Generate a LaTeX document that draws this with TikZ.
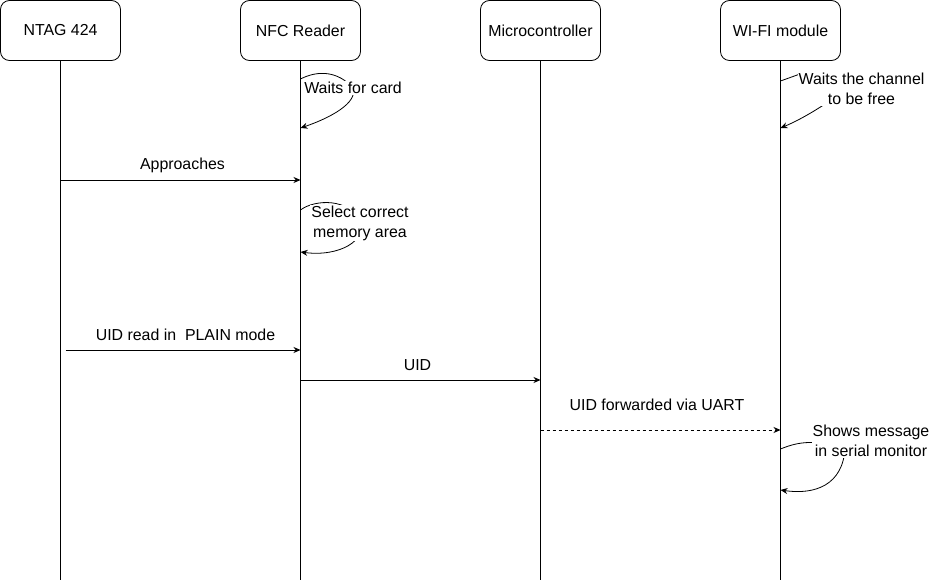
\documentclass[tikz,border=0pt]{standalone}
\usepackage{fontspec}
\setmainfont{Liberation Sans}
\usetikzlibrary{arrows.meta}
\begin{document}
\begin{tikzpicture}[x=1pt,y=-1pt,
  actor/.style={draw, rounded corners=9pt, minimum width=120pt, minimum height=60pt, line width=0.8pt},
  life/.style={line width=0.8pt},
  msg/.style={line width=0.8pt, -{Stealth[length=7pt,width=6pt]}},
  lbl/.style={font=\fontsize{15.9}{20}\selectfont, inner sep=1pt},
  note/.style={font=\fontsize{15.9}{20}\selectfont, inner sep=1pt, fill=white, align=center}]
\useasboundingbox (0,0) rectangle (930,583);
\fill[white] (0,0) rectangle (930,583);
% actors
\node[actor, lbl] (A) at (60.5,30.5) {NTAG 424};
\node[actor, lbl] (B) at (300.5,30.5) {NFC Reader};
\node[actor, lbl] (C) at (540.5,30.5) {Microcontroller};
\node[actor, lbl] (D) at (780.5,30.5) {WI-FI module};
\coordinate (Ae) at (60.5,580);
\coordinate (Be) at (300.5,580);
\coordinate (Ce) at (540.5,580);
\coordinate (De) at (780.5,580);
\draw[life] (A.south) -- (Ae);
\draw[life] (B.south) -- (Be);
\draw[life] (C.south) -- (Ce);
\draw[life] (D.south) -- (De);
% self loop: waits for card
\coordinate (b1s) at (300.5,79);
\coordinate (b1e) at (300.5,128);
\draw[msg] (b1s) .. controls (318,70) and (338,71) .. (353,88) .. controls (358,103) and (330,118) .. (b1e);
\node[note] (n1) at (353,88) {Waits for card};
% approaches
\coordinate (m1s) at (60.5,180);
\coordinate (m1e) at (300.5,180);
\draw[msg] (m1s) -- (m1e);
\node[lbl] (l1) at (182.5,165) {Approaches};
% self loop: select correct memory area
\coordinate (b2s) at (300.5,210);
\coordinate (b2e) at (300.5,252);
\draw[msg] (b2s) .. controls (315,199) and (350,198) .. (360,222) .. controls (367,240) and (340,257) .. (b2e);
\node[note] (n2) at (360,223) {Select correct\\memory area};
% UID read in PLAIN mode
\coordinate (m2s) at (65.5,350);
\coordinate (m2e) at (300.5,350);
\draw[msg] (m2s) -- (m2e);
\node[lbl] (l2) at (185.5,335) {UID read in \ PLAIN mode};
% UID
\coordinate (m3s) at (300.5,380);
\coordinate (m3e) at (540.5,380);
\draw[msg] (m3s) -- (m3e);
\node[lbl] (l3) at (417.5,365) {UID};
% UID forwarded via UART
\coordinate (m4s) at (540.5,430);
\coordinate (m4e) at (780.5,430);
\draw[msg, dash pattern=on 3pt off 3pt] (m4s) -- (m4e);
\node[lbl] (l4) at (657,405) {UID forwarded via UART};
% self loop: waits the channel
\coordinate (d1s) at (780.5,81);
\coordinate (d1e) at (780.5,128);
\draw[msg] (d1s) .. controls (790,77) .. (800,74) -- (850,90) -- (822,106) .. controls (808,115) and (795,122) .. (d1e);
\node[note] (n3) at (861.5,89) {Waits the channel\\to be free};
% self loop: shows message
\coordinate (d2s) at (780.5,449);
\coordinate (d2e) at (780.5,490);
\draw[msg] (d2s) .. controls (800,441) and (815,440) .. (845,448) .. controls (843,485) and (815,495) .. (d2e);
\node[note] (n4) at (871,441) {Shows message\\in serial monitor};
\end{tikzpicture}
\end{document}
